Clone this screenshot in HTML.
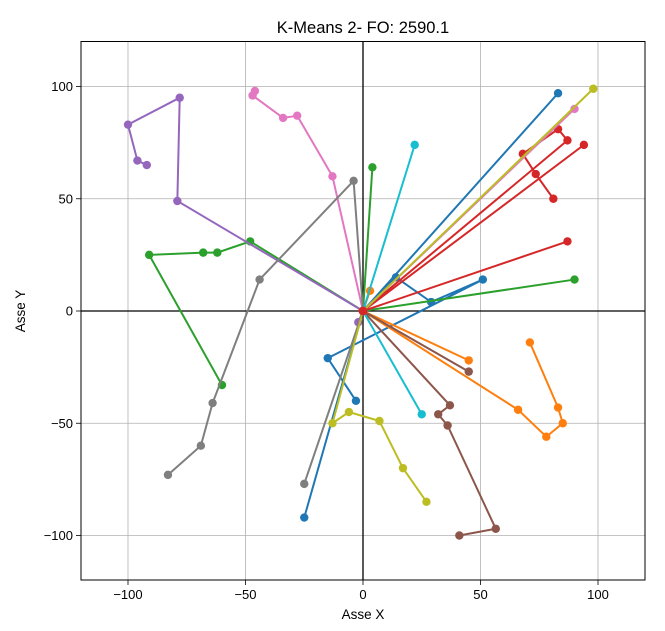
<!DOCTYPE html>
<html><head><meta charset="utf-8"><style>
body{margin:0;background:#fff;}
svg{font-family:"Liberation Sans","DejaVu Sans",sans-serif;}
</style></head><body>
<svg id="chart" width="665" height="626" viewBox="0 0 665 626">
<rect width="665" height="626" fill="#fff"/>
<text x="363" y="33" text-anchor="middle" font-size="16.5" fill="#000">K-Means 2- FO: 2590.1</text>
<g id="grid"></g>
<g id="routes"></g>
<rect x="81" y="41.5" width="564" height="538.5" fill="none" stroke="#000" stroke-width="1"/>
<g id="ticks"></g>
<text x="363" y="619" text-anchor="middle" font-size="13.5">Asse X</text>
<text transform="translate(25,311) rotate(-90)" text-anchor="middle" font-size="13.5">Asse Y</text>
</svg>
<script>
const xTicks=[-100,-50,0,50,100];
const yTicks=[-100,-50,0,50,100];
const xTickLabels=["\u2212100","\u221250","0","50","100"];
const yTickLabels=["\u2212100","\u221250","0","50","100"];
const routeColors=["#1f77b4","#1f77b4","#1f77b4","#ff7f0e","#ff7f0e","#ff7f0e","#2ca02c","#2ca02c","#2ca02c","#d62728","#d62728","#d62728","#9467bd","#9467bd","#8c564b","#8c564b","#e377c2","#e377c2","#7f7f7f","#7f7f7f","#bcbd22","#bcbd22","#17becf","#17becf"];
const routeXs=[
[0,83],[0,14,29,51,-15,-3],[0,-25],
[0,66,78,85,83,71],[0,45],[0,3],
[0,4],[0,-48,-62,-68,-91,-60],[0,90],
[0,94],[0,87,83,68,73.5,81],[0,87],
[0,-79,-78,-100,-96,-92],[0,-2],
[0,45],[0,37,32,36,56.5,41],
[0,-13,-28,-34,-47,-46],[0,90],
[-25,0],[0,-4,-44,-64,-69,-83],
[0,98],[0,-13,-6,7,17,27],
[0,22],[0,25]
];
const routeYs=[
[0,97],[0,15,4,14,-21,-40],[0,-92],
[0,-44,-56,-50,-43,-14],[0,-22],[0,9],
[0,64],[0,31,26,26,25,-33],[0,14],
[0,74],[0,76,81,70,61,50],[0,31],
[0,49,95,83,67,65],[0,-5],
[0,-27],[0,-42,-46,-51,-97,-100],
[0,60,87,86,96,98],[0,90],
[-77,0],[0,58,14,-41,-60,-73],
[0,99],[0,-50,-45,-49,-70,-85],
[0,74],[0,-46]
];
const depot=[0,0];
const NS="http://www.w3.org/2000/svg";
function sx(v){return 363+v*2.35;}
function sy(v){return 311-v*2.245;}
const grid=document.getElementById('grid'),ticks=document.getElementById('ticks'),routes=document.getElementById('routes');
function mk(tag,attrs,parent){const e=document.createElementNS(NS,tag);for(const k in attrs)e.setAttribute(k,attrs[k]);parent.appendChild(e);return e;}
xTicks.forEach((t,i)=>{
  const g=mk('line',{x1:sx(t),x2:sx(t),y1:41.5,y2:580,stroke:'#b0b0b0','stroke-width':0.8},grid);
  
  
  const tk=mk('line',{x1:sx(t),x2:sx(t),y1:580,y2:585,stroke:'#000','stroke-width':0.8},ticks);
  
  
  const tl=mk('text',{x:sx(t),y:599,'text-anchor':'middle','font-size':13},ticks);
  tl.textContent=xTickLabels[i];
  
  
});
yTicks.forEach((t,i)=>{
  const g=mk('line',{x1:81,x2:645,y1:sy(t),y2:sy(t),stroke:'#b0b0b0','stroke-width':0.8},grid);
  
  
  const tk=mk('line',{x1:76,x2:81,y1:sy(t),y2:sy(t),stroke:'#000','stroke-width':0.8},ticks);
  
  
  const tl=mk('text',{x:73,y:sy(t)+4.5,'text-anchor':'end','font-size':13},ticks);
  tl.textContent=yTickLabels[i];
  
  
});
const ax1=mk('line',{x1:81,x2:645,y1:sy(0),y2:sy(0),stroke:'#000','stroke-width':1.3},grid);


const ax2=mk('line',{x1:sx(0),x2:sx(0),y1:41.5,y2:580,stroke:'#000','stroke-width':1.3},grid);


routeXs.forEach((xs,i)=>{
  const ys=routeYs[i],c=routeColors[i];
  const g=mk('g',{},routes);
  
  
  const pl=mk('polyline',{points:xs.map((x,j)=>sx(x)+','+sy(ys[j])).join(' '),fill:'none',stroke:c,'stroke-width':2},g);
  
  
  xs.forEach((x,j)=>{
    const p=mk('circle',{cx:sx(x),cy:sy(ys[j]),r:4.2,fill:c},g);
    
    
  });
});
const d=mk('circle',{cx:sx(depot[0]),cy:sy(depot[1]),r:4.5,fill:'#d62728'},routes);


</script>
</body></html>
